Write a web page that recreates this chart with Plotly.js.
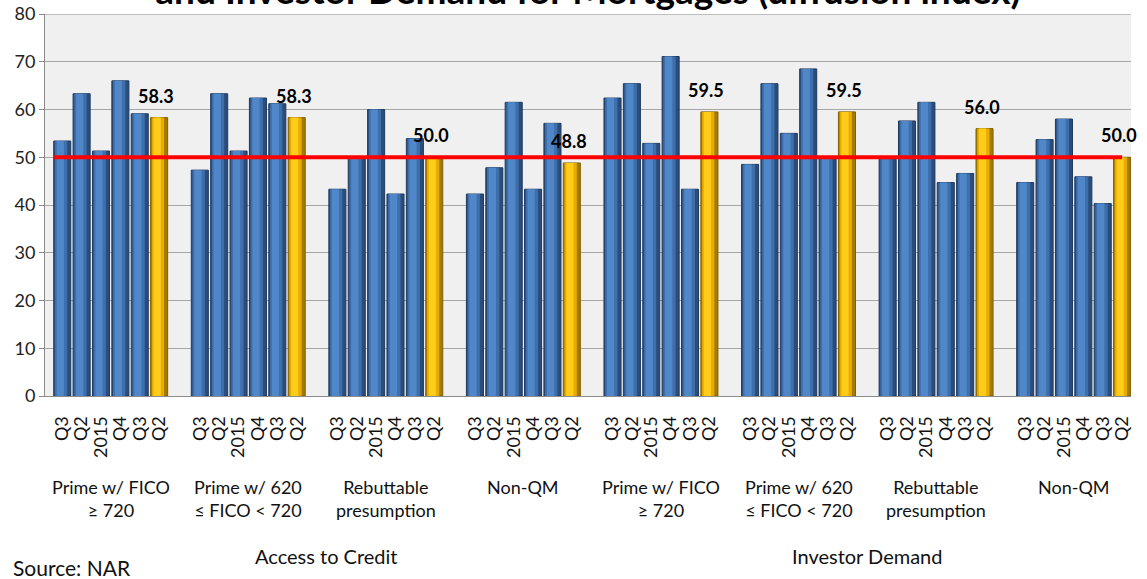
<!DOCTYPE html>
<html>
<head>
<meta charset="utf-8">
<script src="https://cdn.plot.ly/plotly-3.0.1.min.js"></script>
<style>html,body{margin:0;padding:0;background:#fff;}#chart{width:1147px;height:579px;}</style>
</head>
<body>
<div id="chart"></div>
<script>
// ---- data ----
const periodLabels = ["Q3", "Q2", "2015", "Q4", "Q3", "Q2"];
const groupLabels = [
  "Prime w/ FICO<br>≥ 720", "Prime w/ 620<br>≤ FICO < 720", "Rebuttable<br>presumption", "Non-QM",
  "Prime w/ FICO<br>≥ 720", "Prime w/ 620<br>≤ FICO < 720", "Rebuttable<br>presumption", "Non-QM"
];
const sectionLabels = ["Access to Credit", "Investor Demand"];
const accessPrime720   = [53.4, 63.3, 51.3, 66.0, 59.1, 58.3];
const accessPrime620   = [47.3, 63.3, 51.3, 62.4, 61.2, 58.3];
const accessRebuttable = [43.3, 50.0, 60.0, 42.3, 53.9, 50.0];
const accessNonQM      = [42.3, 47.8, 61.5, 43.3, 57.1, 48.8];
const investPrime720   = [62.4, 65.4, 52.9, 71.1, 43.3, 59.5];
const investPrime620   = [48.5, 65.4, 55.0, 68.5, 49.9, 59.5];
const investRebuttable = [49.6, 57.6, 61.5, 44.7, 46.6, 56.0];
const investNonQM      = [44.7, 53.7, 58.0, 45.9, 40.3, 50.0];
const neutralLevel = 50;
const sourceText = "Source: NAR";
const titleText = "and Investor Demand for Mortgages (diffusion index)";

// ---- layout helpers ----
const groups = [accessPrime720, accessPrime620, accessRebuttable, accessNonQM,
                investPrime720, investPrime620, investRebuttable, investNonQM];
const groupPitch = 7.1, barW = 0.88;
const font = "Lato, 'Open Sans', sans-serif";

const blueX = [], blueY = [], goldX = [], goldY = [], tickVals = [], tickText = [];
groups.forEach((vals, g) => {
  vals.forEach((v, i) => {
    const x = g * groupPitch + i;
    tickVals.push(x); tickText.push(periodLabels[i]);
    if (i === vals.length - 1) { goldX.push(x); goldY.push(v); }
    else { blueX.push(x); blueY.push(v); }
  });
});

// cylinder-like shading: stacked overlay layers of narrowing width
function layers(xs, ys, colors, edge) {
  const widths = [barW, barW * 0.72, barW * 0.42];
  const offs = [0, -0.06, -0.1];
  return colors.map((c, k) => ({
    type: "bar", x: xs.map(x => x + offs[k]), y: ys, width: widths[k], hoverinfo: "skip",
    marker: {color: c, line: {color: k === 0 ? edge : c, width: k === 0 ? 1 : 0}}
  }));
}
const traces = [
  ...layers(blueX, blueY, ["#2b4d7b", "#3f6fab", "#5087c8"], "#1f3a5e"),
  ...layers(goldX, goldY, ["#a47b00", "#e6ad00", "#ffcc1a"], "#806000")
];

const annotations = [];
goldX.forEach((x, k) => {
  annotations.push({x: x - 0.15, y: goldY[k], xref: "x", yref: "y", text: goldY[k].toFixed(1),
    showarrow: false, yanchor: "bottom", yshift: 9, font: {family: font, size: 18, color: "#000", weight: "bold"}});
});
groupLabels.forEach((t, g) => {
  annotations.push({x: g * groupPitch + 2.5, y: -0.205, xref: "x", yref: "paper", text: t,
    showarrow: false, yanchor: "top", align: "center", font: {family: font, size: 18, color: "#111"}});
});
const sectionShift = [0.5, 0];
sectionLabels.forEach((t, s) => {
  const x0 = s * 4 * groupPitch, x1 = (s * 4 + 3) * groupPitch + 5;
  annotations.push({x: (x0 + x1) / 2 + sectionShift[s], y: -0.42, xref: "x", yref: "paper", text: t,
    showarrow: false, yanchor: "middle", font: {family: font, size: 20, color: "#111"}});
});
annotations.push({x: -0.031, y: -0.45, xref: "paper", yref: "paper", text: sourceText,
  showarrow: false, xanchor: "left", yanchor: "middle", font: {family: font, size: 21, color: "#111"}});

const lastX = tickVals[tickVals.length - 1];
const layout = {
  width: 1147, height: 579,
  margin: {l: 45, r: 16, t: 14, b: 183},
  paper_bgcolor: "#ffffff", plot_bgcolor: "#f0f0f0",
  showlegend: false, barmode: "overlay",
  title: {text: "<b>" + titleText + "</b>", x: 0.5, xref: "paper", y: 1 - 4/579, yanchor: "bottom",
          font: {family: font, size: 37, color: "#000"}},
  xaxis: {range: [-0.89, lastX + 0.46], tickmode: "array", tickvals: tickVals, ticktext: tickText,
          tickangle: -90, ticks: "", ticklabelstandoff: 12, showgrid: false, zeroline: false,
          showline: true, linecolor: "#8c8c8c", linewidth: 1,
          tickfont: {family: font, size: 18, color: "#111"}},
  yaxis: {range: [0, 80], dtick: 10, tick0: 0, showgrid: true, gridcolor: "#a6a6a6", gridwidth: 1,
          zeroline: false, showline: true, linecolor: "#8c8c8c", linewidth: 1,
          ticks: "outside", ticklen: 5, tickcolor: "#8c8c8c",
          tickfont: {family: font, size: 18, color: "#222"}},
  shapes: [
    {type: "line", xref: "x", yref: "y", x0: tickVals[0] - barW / 2, x1: lastX, y0: neutralLevel, y1: neutralLevel,
     line: {color: "#ff0000", width: 4}, layer: "above"},
    {type: "line", xref: "paper", yref: "y", x0: 0, x1: 1, y0: 80, y1: 80, line: {color: "#8c8c8c", width: 1}}
  ],
  annotations: annotations
};
Plotly.newPlot("chart", traces, layout, {displayModeBar: false, staticPlot: true});
</script>
</body>
</html>
